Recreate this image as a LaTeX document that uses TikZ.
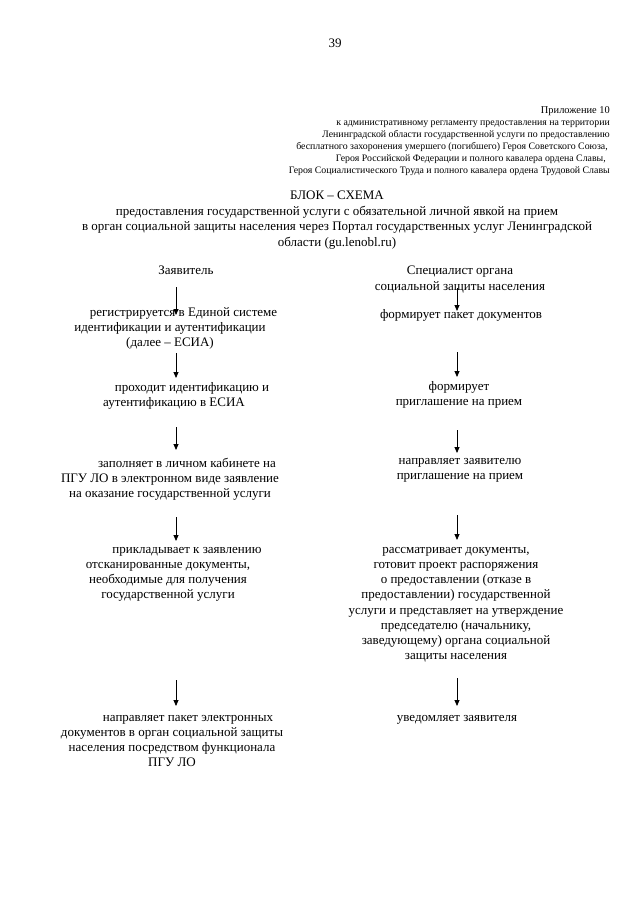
\documentclass[tikz,border=0pt]{standalone}
\usepackage{fontspec}
\setmainfont{Liberation Serif}
\usetikzlibrary{arrows.meta}
\begin{document}
\begin{tikzpicture}[x=1pt,y=-1pt,
  txt/.style={font=\fontsize{13}{15.2}\selectfont, align=center, inner sep=0pt, anchor=north},
  small/.style={font=\fontsize{9.85}{12}\selectfont, inner sep=0pt, anchor=base east},
  arr/.style={-{Triangle[length=6pt,width=5pt]}, line width=0.8pt}]
\useasboundingbox[fill=white] (0,0) rectangle (640,905);

% page number
\node[txt] (pnum) at (335,39) {39};

% appendix header
\node[small, font=\fontsize{10.4}{12}\selectfont] (h0) at (610,113) {Приложение  10};
\node[small] (h1) at (610,125) {к  административному регламенту предоставления на территории};
\node[small] (h2) at (610,137) {Ленинградской области  государственной услуги по предоставлению};
\node[small] (h3) at (608,149) {бесплатного захоронения умершего (погибшего) Героя Советского Союза,};
\node[small] (h4) at (606,161) {Героя Российской Федерации и полного кавалера ордена Славы,};
\node[small] (h5) at (610,173) {Героя Социалистического Труда и полного кавалера ордена Трудовой Славы};

% title
\node[txt, font=\fontsize{13}{15.5}\selectfont] (title) at (337,191)
  {БЛОК – СХЕМА\\
   предоставления государственной услуги с  обязательной личной явкой на прием\\
   в орган социальной защиты населения через Портал государственных услуг Ленинградской\\
   области (gu.lenobl.ru)};

% left column
\node[txt] (L0) at (186,266) {Заявитель};
\node[txt] (L1) at (170,307) {\hspace*{27pt}регистрируется в Единой системе\\идентификации и аутентификации\\(далее – ЕСИА)};
\node[txt] (L2) at (174,382) {\hspace*{36pt}проходит идентификацию и\\аутентификацию в ЕСИА};
\node[txt] (L3) at (170,458) {\hspace*{34pt}заполняет в личном кабинете на\\ПГУ ЛО в электронном виде заявление\\на оказание государственной услуги};
\node[txt] (L4) at (168,547) {\hspace*{38pt}прикладывает  к заявлению\\отсканированные документы,\\необходимые для получения\\государственной услуги};
\node[txt] (L5) at (172,715) {\hspace*{32pt}направляет пакет электронных\\документов в орган социальной защиты\\населения посредством функционала\\ПГУ ЛО};

% right column
\node[txt] (R0) at (460,266) {Специалист органа\\социальной защиты населения};
\node[txt] (R1) at (461,309) {формирует пакет документов};
\node[txt] (R2) at (459,381) {формирует\\приглашение на прием};
\node[txt] (R3) at (460,458) {направляет заявителю\\приглашение на прием};
\node[txt] (R4) at (456,547) {рассматривает документы,\\готовит проект распоряжения\\о предоставлении (отказе в\\предоставлении) государственной\\услуги и представляет на утверждение\\председателю (начальнику,\\заведующему) органа социальной\\защиты населения};
\node[txt] (R5) at (457,715) {уведомляет заявителя};

% arrow end points
\coordinate (la1) at (176,287); \coordinate (lb1) at (176,315);
\coordinate (la2) at (176,353); \coordinate (lb2) at (176,378);
\coordinate (la3) at (176,427); \coordinate (lb3) at (176,450);
\coordinate (la4) at (176,517); \coordinate (lb4) at (176,541);
\coordinate (la5) at (176,680); \coordinate (lb5) at (176,706);
\coordinate (ra1) at (457,288); \coordinate (rb1) at (457,311);
\coordinate (ra2) at (457,352); \coordinate (rb2) at (457,377);
\coordinate (ra3) at (457,430); \coordinate (rb3) at (457,453);
\coordinate (ra4) at (457,515); \coordinate (rb4) at (457,540);
\coordinate (ra5) at (457,678); \coordinate (rb5) at (457,706);

\foreach \i in {1,...,5} {
  \draw[arr] (la\i) -- (lb\i);
  \draw[arr] (ra\i) -- (rb\i);
}
\end{tikzpicture}
\end{document}
